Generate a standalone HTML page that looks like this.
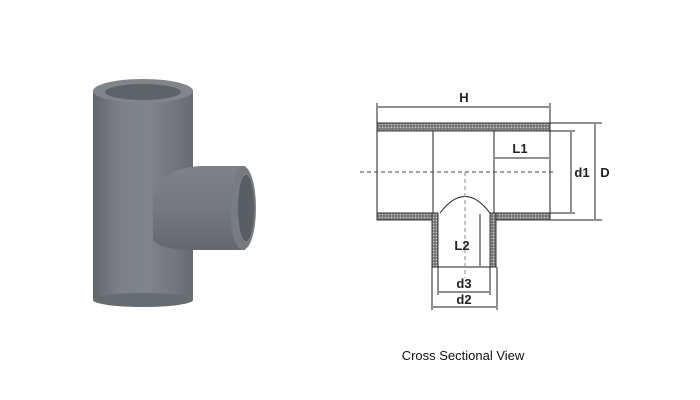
<!DOCTYPE html>
<html><head><meta charset="utf-8"><style>
html,body{margin:0;padding:0;background:#fff;width:700px;height:400px;overflow:hidden}
</style></head><body>
<svg width="700" height="400" viewBox="0 0 700 400" xmlns="http://www.w3.org/2000/svg" font-family="Liberation Sans, Arial, sans-serif">
<defs>
<linearGradient id="g1" x1="0" x2="1" y1="0" y2="0">
<stop offset="0" stop-color="#62676c"/><stop offset="0.25" stop-color="#7b8085"/><stop offset="0.55" stop-color="#80858a"/><stop offset="1" stop-color="#676c70"/>
</linearGradient>
<linearGradient id="g2" x1="0" x2="0" y1="0" y2="1">
<stop offset="0" stop-color="#7e8388"/><stop offset="0.5" stop-color="#74797e"/><stop offset="1" stop-color="#63686c"/>
</linearGradient>
<pattern id="hat" width="3" height="3" patternUnits="userSpaceOnUse">
<rect width="3" height="3" fill="#777"/><circle cx="1.5" cy="1.5" r="0.8" fill="#ccc"/>
</pattern>
</defs>
<!-- photo -->
<rect x="93" y="90" width="100" height="210" fill="url(#g1)"/>
<ellipse cx="143" cy="300" rx="50" ry="7" fill="#676c70"/>
<path d="M153 200 Q160 168 200 166 L245 166 L245 250 L195 250 Q160 250 153 240 Z" fill="url(#g2)"/>
<ellipse cx="243" cy="208" rx="13" ry="42" fill="#777c81"/>
<ellipse cx="246" cy="208" rx="8" ry="33" fill="#595e62"/>
<ellipse cx="143" cy="91" rx="50" ry="12" fill="#80858a"/>
<ellipse cx="143" cy="92" rx="38" ry="8" fill="#5e6367"/>
<!-- diagram -->
<g stroke="#222" stroke-width="1" fill="none">
<rect x="377" y="123" width="173" height="8" fill="url(#hat)" stroke="#333"/>
<rect x="377" y="213" width="60" height="7" fill="url(#hat)" stroke="#333"/>
<rect x="490" y="213" width="60" height="7" fill="url(#hat)" stroke="#333"/>
<rect x="432" y="213" width="6" height="54" fill="url(#hat)" stroke="#333"/>
<rect x="490" y="213" width="6" height="54" fill="url(#hat)" stroke="#333"/>
<line x1="377" y1="131" x2="377" y2="213"/>
<line x1="550" y1="131" x2="550" y2="213"/>
<line x1="433" y1="131" x2="433" y2="213"/>
<line x1="494" y1="131" x2="494" y2="213"/>
<path d="M440 213 Q465 180 490 213"/>
<line x1="438" y1="267" x2="490" y2="267"/>
<line x1="360" y1="172" x2="556" y2="172" stroke-dasharray="4,3" stroke="#444"/>
<line x1="465" y1="172" x2="465" y2="278" stroke-dasharray="4,3" stroke="#888"/>
<line x1="377" y1="103" x2="377" y2="123"/><line x1="550" y1="103" x2="550" y2="123"/>
<line x1="378" y1="107" x2="549" y2="107"/>
<line x1="495" y1="158" x2="549" y2="158"/>
<line x1="550" y1="131" x2="575" y2="131"/><line x1="550" y1="213" x2="575" y2="213"/>
<line x1="571" y1="132" x2="571" y2="212"/>
<line x1="550" y1="123" x2="602" y2="123"/><line x1="550" y1="220" x2="602" y2="220"/>
<line x1="595" y1="124" x2="595" y2="219"/>
<line x1="480" y1="214" x2="480" y2="266"/>
<line x1="438" y1="267" x2="438" y2="295"/><line x1="490" y1="267" x2="490" y2="295"/>
<line x1="439" y1="292" x2="489" y2="292"/>
<line x1="432" y1="267" x2="432" y2="310"/><line x1="497" y1="267" x2="497" y2="310"/>
<line x1="433" y1="307" x2="496" y2="307"/>
</g>
<g fill="#222" font-size="13" font-weight="bold">
<text x="464" y="102" text-anchor="middle">H</text>
<text x="520" y="153" text-anchor="middle">L1</text>
<text x="582" y="177" text-anchor="middle">d1</text>
<text x="605" y="177" text-anchor="middle">D</text>
<text x="462" y="250" text-anchor="middle">L2</text>
<text x="464" y="288" text-anchor="middle">d3</text>
<text x="464" y="304" text-anchor="middle">d2</text>
</g>
<text x="463" y="360" text-anchor="middle" font-size="13" fill="#111">Cross Sectional View</text>
</svg>
</body></html>
